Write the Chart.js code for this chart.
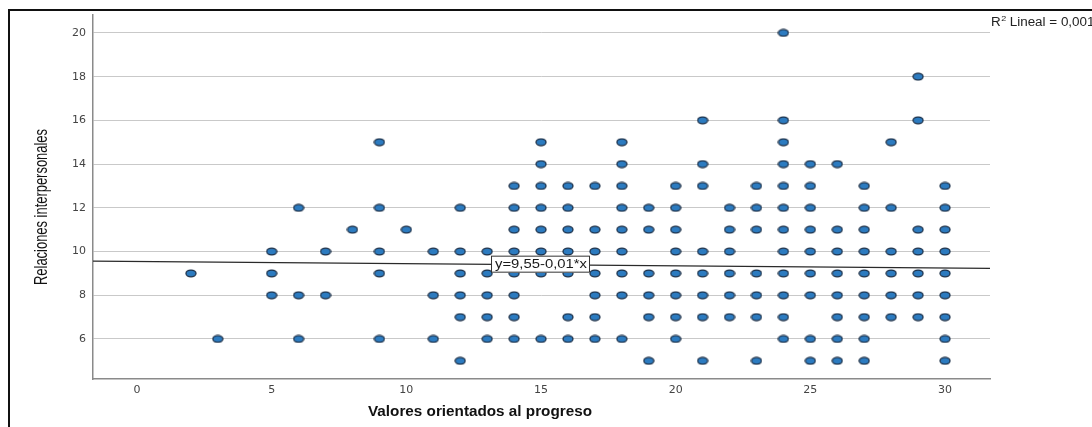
<!DOCTYPE html>
<html lang="es">
<head>
<meta charset="utf-8">
<title>Dispersión</title>
<script src="https://cdn.jsdelivr.net/npm/chart.js@4/dist/chart.umd.min.js"></script>
<style>
  html,body{margin:0;padding:0;background:#fff;}
  canvas{display:block;}
</style>
</head>
<body>
<canvas id="grafico" width="1092" height="427"></canvas>
<script>
// ===== DATOS =====
// valores de "Valores orientados al progreso" para cada nivel de relaciones
const niveles = [5,6,7,8,9,10,11,12,13,14,15,16,18,20];
const x5  = [12,19,21,23,25,26,27,30];
const x6  = [3,6,9,11,13,14,15,16,17,18,20,24,25,26,27,30];
const x7  = [12,13,14,16,17,19,20,21,22,23,24,26,27,28,29,30];
const x8  = [5,6,7,11,12,13,14,17,18,19,20,21,22,23,24,25,26,27,28,29,30];
const x9  = [2,5,9,12,13,14,15,16,17,18,19,20,21,22,23,24,25,26,27,28,29,30];
const x10 = [5,7,9,11,12,13,14,15,16,17,18,20,21,22,24,25,26,27,28,29,30];
const x11 = [8,10,14,15,16,17,18,19,20,22,23,24,25,26,27,29,30];
const x12 = [6,9,12,14,15,16,18,19,20,22,23,24,25,27,28,30];
const x13 = [14,15,16,17,18,20,21,23,24,25,27,30];
const x14 = [15,18,21,24,25,26];
const x15 = [9,15,18,24,28];
const x16 = [21,24,29];
const x18 = [29];
const x20 = [24];
const filas = [x5,x6,x7,x8,x9,x10,x11,x12,x13,x14,x15,x16,x18,x20];

// recta de ajuste
const intercepto = 9.55;
const pendiente = -0.01;
const r2 = "0,001";

const ticksX = [0,5,10,15,20,25,30];
const ticksY = [6,8,10,12,14,16,18,20];
const limX = [-1.634, 31.67];
const limY = [4.17, 20.82];

let puntos = [];
filas.forEach((fila,i)=>{
  fila.forEach(x=>puntos.push({x, y: niveles[i]}));
});
let recta = limX.map(x=>({x, y: intercepto + pendiente*x}));

// ===== MARCADOR ELÍPTICO =====
function crearMarcador(){
  let c = document.createElement("canvas");
  c.width = 12; c.height = 9;
  let ctx = c.getContext("2d");
  ctx.beginPath();
  ctx.ellipse(6, 4.5, 5, 3.4, 0, 0, Math.PI*2);
  ctx.fillStyle = "#2c7bc0";
  ctx.fill();
  ctx.lineWidth = 1.3;
  ctx.strokeStyle = "#1b2f47";
  ctx.stroke();
  return c;
}

// texto estirado en horizontal
function textoEscalado(ctx, txt, x, y, s, align){
  ctx.save();
  ctx.translate(x, y);
  ctx.scale(s, 1);
  ctx.textAlign = align || "center";
  ctx.fillText(txt, 0, 0);
  ctx.restore();
}
function textoAncho(ctx, txt, x, y, ancho, align){
  let w = ctx.measureText(txt).width;
  textoEscalado(ctx, txt, x, y, ancho / w, align);
}

const fuente = "Arial, 'Liberation Sans', sans-serif";

// ===== DECORACIÓN =====
const decoracion = {
  id: "decoracion",
  beforeDraw(chart){
    let ctx = chart.ctx;
    ctx.save();
    ctx.fillStyle = "#fff";
    ctx.fillRect(0, 0, chart.width, chart.height);
    // marco
    ctx.strokeStyle = "#111";
    ctx.lineWidth = 2;
    ctx.beginPath();
    ctx.moveTo(9, 427);
    ctx.lineTo(9, 10);
    ctx.lineTo(1092, 10);
    ctx.stroke();
    ctx.restore();
  },
  afterDatasetsDraw(chart){
    let ctx = chart.ctx;
    let sx = chart.scales.x, sy = chart.scales.y;
    ctx.save();
    // etiqueta de la ecuación sobre la recta
    let cx = sx.getPixelForValue(15);
    let cy = sy.getPixelForValue(intercepto + pendiente*15);
    ctx.fillStyle = "#fff";
    ctx.fillRect(cx-49, cy-8, 98, 16);
    ctx.strokeStyle = "#333";
    ctx.lineWidth = 1;
    ctx.strokeRect(cx-49.5, cy-8.5, 98, 16);
    ctx.fillStyle = "#1a1a1a";
    ctx.font = "12px " + fuente;
    ctx.textBaseline = "middle";
    let eq = "y=" + intercepto.toFixed(2).replace(".", ",") + "-" + Math.abs(pendiente).toFixed(2).replace(".", ",") + "*x";
    textoAncho(ctx, eq, cx, cy+0.5, 92);

    // R² lineal
    ctx.fillStyle = "#222";
    ctx.textBaseline = "alphabetic";
    ctx.font = "12px " + fuente;
    textoEscalado(ctx, "R", 991, 26, 1.12, "left");
    let wR = ctx.measureText("R").width * 1.12;
    ctx.font = "8px " + fuente;
    textoEscalado(ctx, "2", 991 + wR + 0.5, 21, 1.12, "left");
    ctx.font = "12px " + fuente;
    textoEscalado(ctx, "Lineal = " + r2, 991 + wR + 9, 26, 1.12, "left");

    // títulos de ejes
    ctx.fillStyle = "#111";
    ctx.textBaseline = "middle";
    ctx.font = "bold 15px " + fuente;
    textoAncho(ctx, "Valores orientados al progreso", 480, 412, 224);

    ctx.font = "18px " + fuente;
    ctx.save();
    ctx.translate(42, 207);
    ctx.rotate(-Math.PI/2);
    textoAncho(ctx, "Relaciones interpersonales", 0, 0, 156);
    ctx.restore();
    ctx.restore();
  }
};

// ===== GRÁFICO =====
let grafico = new Chart(document.getElementById("grafico"), {
  type: "scatter",
  data: {
    datasets: [
      {
        type: "line",
        label: "Recta",
        data: recta,
        borderColor: "#2a2a2a",
        borderWidth: 1.2,
        pointRadius: 0,
        fill: false,
        order: 0
      },
      {
        label: "Relaciones interpersonales",
        data: puntos,
        pointStyle: crearMarcador(),
        pointRadius: 5,
        order: 1
      }
    ]
  },
  options: {
    responsive: false,
    animation: false,
    layout: { padding: { left: 0, right: 102, top: 15, bottom: 0 } },
    plugins: { legend: { display: false }, tooltip: { enabled: false } },
    scales: {
      x: {
        type: "linear",
        min: limX[0], max: limX[1],
        afterBuildTicks: ax => { ax.ticks = ticksX.map(v=>({value: v})); },
        afterFit: ax => { ax.height = 48; },
        grid: { display: false, drawTicks: false },
        border: { display: true, color: "#8a8a8a", width: 1.5 },
        ticks: { color: "#444", padding: 5, maxRotation: 0, font: { family: "'DejaVu Sans', sans-serif", size: 11 } }
      },
      y: {
        type: "linear",
        min: limY[0], max: limY[1],
        afterBuildTicks: ax => { ax.ticks = ticksY.map(v=>({value: v})); },
        afterFit: ax => { ax.width = 93; },
        grid: { color: "#c9c9c9", lineWidth: 1, drawTicks: false },
        border: { display: true, color: "#8a8a8a", width: 1.5 },
        ticks: { color: "#444", padding: 7, font: { family: "'DejaVu Sans', sans-serif", size: 11 } }
      }
    }
  },
  plugins: [decoracion]
});
</script>
</body>
</html>
